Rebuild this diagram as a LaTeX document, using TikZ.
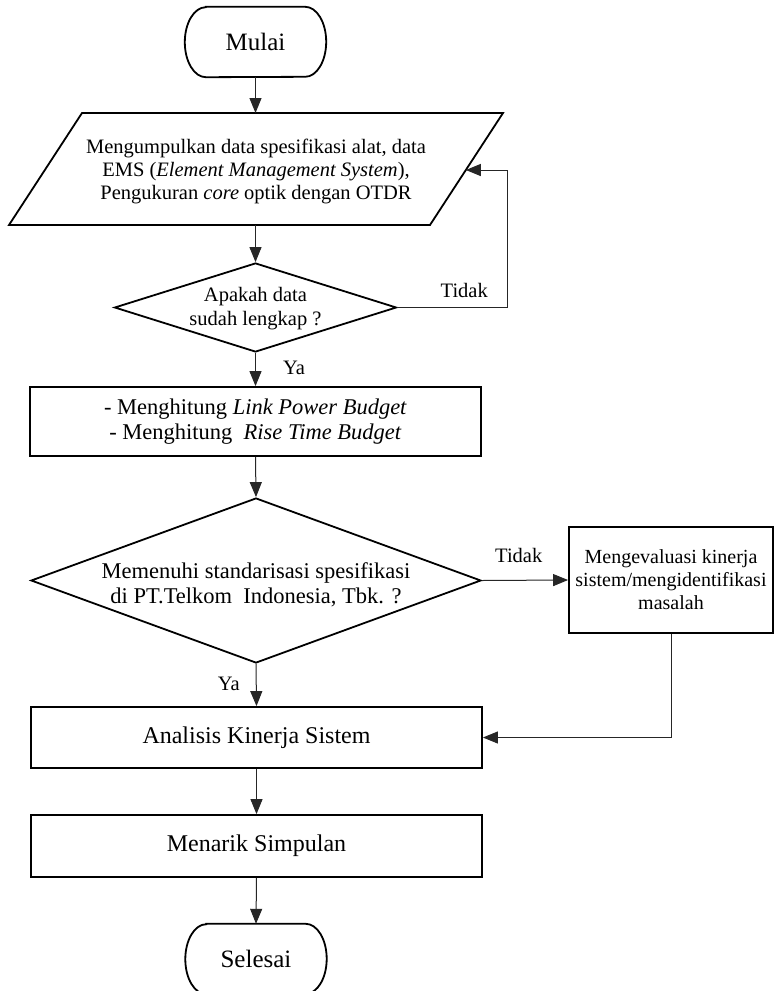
\documentclass[tikz,border=0pt]{standalone}
\usepackage{fontspec}
\setmainfont{Liberation Serif}
\usetikzlibrary{shapes.geometric,arrows.meta}
\begin{document}
\begin{tikzpicture}[x=1pt,y=-1pt]
\tikzset{
  shp/.style={draw=black, line width=1.8pt},
  proc/.style={shp, rectangle, minimum width=451pt, inner sep=0pt, align=center},
  dia/.style={shp, diamond, inner sep=0pt},
  conn/.style={draw=black!85, line width=1pt, -{Triangle[length=15pt,width=12pt]}},
  lbl/.style={inner sep=0pt, font=\fontsize{20.5pt}{23.5pt}\selectfont},
  txt/.style={align=center, inner sep=0pt},
  term/.style={draw=none, minimum width=141pt, minimum height=70pt, inner sep=0pt, font=\fontsize{25pt}{28pt}\selectfont},
  termline/.style={shp},
}
\fill[white] (0,0) rectangle (778,991);
\useasboundingbox (0,0) rectangle (778,991);

% Mulai
\node[term] (mulai) at (255.5,42) {Mulai};
\draw[termline] ([xshift=21pt]mulai.north west) -- ([xshift=-21pt]mulai.north east)
  arc[start angle=90,end angle=-90,x radius=21pt,y radius=35pt]
  -- ([xshift=21pt]mulai.south west)
  arc[start angle=270,end angle=90,x radius=21pt,y radius=35pt] -- cycle;

% Parallelogram
\coordinate (ptl) at (82,113);
\coordinate (ptr) at (503,113);
\coordinate (pbr) at (430,225);
\coordinate (pbl) at (9,225);
\draw[shp] (ptl) -- (ptr) -- (pbr) -- (pbl) -- cycle;
\node[txt, font=\fontsize{20.5pt}{23pt}\selectfont] (para) at (256,171)
  {Mengumpulkan data spesifikasi alat, data\\EMS (\textit{Element Management System}),\\Pengukuran \textit{core} optik dengan OTDR};
\coordinate (ptop) at (255.5,113);
\coordinate (pbot) at (255.5,225);
\coordinate (pright) at (465.8,170);
\coordinate (fb) at (507,170);

% Decision 1
\node[dia, minimum width=282pt, minimum height=89pt] (d1) at (255.5,307.5) {};
\node[txt, font=\fontsize{20.5pt}{24pt}\selectfont] (d1t) at (255.5,309) {Apakah data\\sudah lengkap ?};

% Process 1
\node[proc, minimum height=69pt, font=\fontsize{22.5pt}{25pt}\selectfont] (r1) at (255.5,421.5)
  {- Menghitung \textit{Link Power Budget}\\- Menghitung\ \ \textit{Rise Time Budget}};

% Decision 2
\node[dia, minimum width=450pt, minimum height=165pt] (d2) at (256,580.5) {};
\node[txt, font=\fontsize{22.5pt}{25pt}\selectfont] (d2t) at (256,585)
  {Memenuhi standarisasi spesifikasi\\di PT.Telkom\ \ Indonesia, Tbk. ?};

% Evaluation box
\node[shp, rectangle, minimum width=204pt, minimum height=106pt, inner sep=0pt, align=center,
  font=\fontsize{20pt}{23pt}\selectfont] (ev) at (671,580)
  {Mengevaluasi kinerja\\sistem/mengidentifikasi\\masalah};

% Analisis
\node[proc, minimum height=61pt, font=\fontsize{24pt}{27pt}\selectfont] (an) at (256.5,737.5) {Analisis Kinerja Sistem};

% Menarik
\node[proc, minimum height=62pt, font=\fontsize{24pt}{27pt}\selectfont] (mn) at (256.5,846) {Menarik Simpulan};

% Selesai
\node[term] (sel) at (256,959) {Selesai};
\draw[termline] ([xshift=21pt]sel.north west) -- ([xshift=-21pt]sel.north east)
  arc[start angle=90,end angle=-90,x radius=21pt,y radius=35pt]
  -- ([xshift=21pt]sel.south west)
  arc[start angle=270,end angle=90,x radius=21pt,y radius=35pt] -- cycle;

% Connectors
\draw[conn] (mulai.south) -- (ptop);
\draw[conn] (pbot) -- (d1.north);
\draw[conn] (d1.east) -| (fb) -- (pright);
\node[lbl, anchor=base east] (t1) at (488,297) {Tidak};
\draw[conn] (d1.south) -- (r1.north);
\node[lbl, anchor=base west] (y1) at (283,374) {Ya};
\draw[conn] (r1.south) -- (d2.north);
\draw[conn] (d2.east) -- (ev.west);
\node[lbl, anchor=base west] (t2) at (495,562) {Tidak};
\draw[conn] (d2.south) -- (an.north);
\node[lbl, anchor=base east] (y2) at (240,690) {Ya};
\draw[conn] (ev.south) |- (an.east);
\draw[conn] (an.south) -- (mn.north);
\draw[conn] (mn.south) -- (sel.north);
\end{tikzpicture}
\end{document}
